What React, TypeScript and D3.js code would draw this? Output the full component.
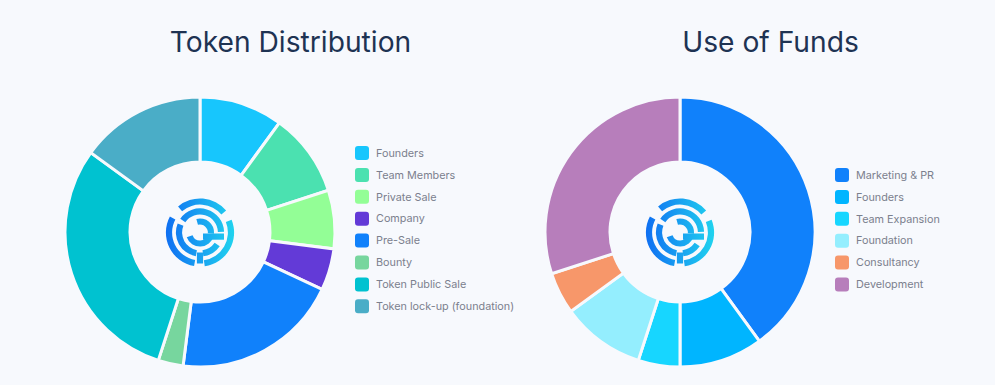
import React from "react";
import * as d3 from "d3";

const distLabels = ["Founders", "Team Members", "Private Sale", "Company", "Pre-Sale", "Bounty", "Token Public Sale", "Token lock-up (foundation)"];
const distValues = [10, 10, 7, 5, 20, 3, 30, 15];
const distColors = ["#17c6fd", "#4be1b0", "#93fe96", "#633ad7", "#1081fb", "#77d69e", "#00c2d0", "#4aadc7"];

const fundLabels = ["Marketing & PR", "Founders", "Team Expansion", "Foundation", "Consultancy", "Development"];
const fundValues = [40, 10, 5, 10, 5, 30];
const fundColors = ["#1081fb", "#00b5ff", "#17d6ff", "#94eefe", "#f7976a", "#b77ebb"];

const W = 995, H = 385;
const BG = "#f7f9fd";
const FONT = "Inter, 'Open Sans', sans-serif";

function Logo({ id }: { id: string }) {
  const rad = (deg: number) => (deg * Math.PI) / 180;
  const ring = (r: number, a0: number, a1: number) =>
    d3.arc()({ innerRadius: r - 3.1, outerRadius: r + 3.1, startAngle: rad(a0), endAngle: rad(a1), cornerRadius: 1 } as any) as string;
  const segs: [number, number, number][] = [
    [31, -40, 50], [31, 68, 172], [31, 190, 298],
    [21, -55, 88], [21, 125, 172], [21, 190, 292],
    [11, -15, 95], [11, 105, 250],
  ];
  const f = `url(#${id})`;
  return (
    <g transform="translate(0,0.5)">
      <defs>
        <linearGradient id={id} x1="-34" y1="0" x2="34" y2="0" gradientUnits="userSpaceOnUse">
          <stop offset="0" stopColor="#0f6ff2" />
          <stop offset="1" stopColor="#20d3ef" />
        </linearGradient>
      </defs>
      {segs.map((s, i) => (
        <path key={i} d={ring(s[0], s[1], s[2])} fill={f} />
      ))}
      <rect x={3} y={1} width={21} height={6.2} fill={f} />
      <rect x={-3.1} y={20} width={6.2} height={11} fill={f} />
    </g>
  );
}

function Donut({ cx, cy, values, colors, id }: { cx: number; cy: number; values: number[]; colors: string[]; id: string }) {
  const pie = d3.pie<number>().sort(null).value((d) => d)(values);
  const arc = d3.arc<d3.PieArcDatum<number>>().innerRadius(70).outerRadius(135);
  return (
    <g transform={`translate(${cx},${cy})`}>
      {pie.map((p, i) => (
        <path key={i} d={arc(p) as string} fill={colors[i]} stroke={BG} strokeWidth={3} />
      ))}
      <Logo id={id} />
    </g>
  );
}

function Legend({ x, y, labels, colors }: { x: number; y: number; labels: string[]; colors: string[] }) {
  const yScale = d3.scalePoint<string>().domain(labels).range([0, (labels.length - 1) * 21.9]);
  return (
    <g transform={`translate(${x},${y})`}>
      {labels.map((l, i) => (
        <g key={l} transform={`translate(0,${yScale(l)})`}>
          <rect x={0} y={-7} width={14} height={14} rx={3} fill={colors[i]} />
          <text x={21} y={0} dy="0.35em" fontSize={10.8} fill="#7b808d" fontFamily={FONT}>{l}</text>
        </g>
      ))}
    </g>
  );
}

export default function App() {
  return (
    <svg width={W} height={H} style={{ position: "absolute", left: 0, top: 0, display: "block" }}>
      <rect width={W} height={H} fill={BG} />
      <text x={290.5} y={52} textAnchor="middle" fontSize={28.2} fill="#1e3353" fontFamily={FONT}>Token Distribution</text>
      <text x={770.5} y={52} textAnchor="middle" fontSize={28.2} fill="#1e3353" fontFamily={FONT}>Use of Funds</text>
      <Donut cx={200} cy={232} values={distValues} colors={distColors} id="g1" />
      <Donut cx={680} cy={232} values={fundValues} colors={fundColors} id="g2" />
      <Legend x={355} y={153} labels={distLabels} colors={distColors} />
      <Legend x={835} y={175} labels={fundLabels} colors={fundColors} />
    </svg>
  );
}
